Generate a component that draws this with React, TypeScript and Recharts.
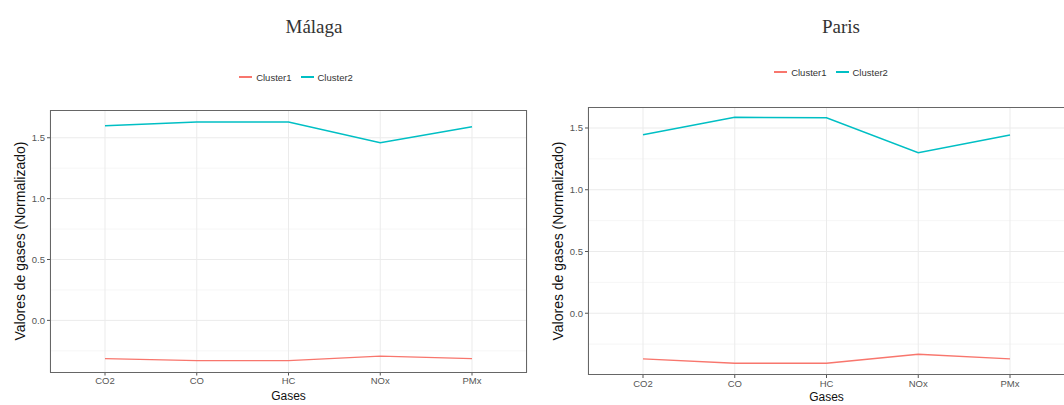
import { CartesianGrid, Line, LineChart, XAxis, YAxis } from "recharts";

const gases = ["CO2", "CO", "HC", "NOx", "PMx"];
const seriesNames = ["Cluster1", "Cluster2"];
const yTicks = [0, 0.5, 1, 1.5];
const yMinorTicks = [-0.25, 0.25, 0.75, 1.25];

const malagaCluster1 = [-0.314, -0.33, -0.33, -0.293, -0.314];
const malagaCluster2 = [1.598, 1.63, 1.63, 1.46, 1.59];
const parisCluster1 = [-0.37, -0.405, -0.405, -0.332, -0.37];
const parisCluster2 = [1.446, 1.587, 1.582, 1.3, 1.444];

const RED = "#F8766D";
const TEAL = "#00BFC4";
const SANS = "'Liberation Sans', Arial, sans-serif";

const W = 532;
const H = 405;
const PLOT_LEFT = 50;
const PLOT_RIGHT = 527;

type PanelProps = {
  left: number;
  title: string;
  titleX: number;
  legendX: number;
  legendY: number;
  plotTop: number;
  plotBottom: number;
  xTitleY: number;
  domain: [number, number];
  cluster1: number[];
  cluster2: number[];
};

function Panel(p: PanelProps) {
  const data = gases.map((gas, i) => ({
    gas,
    Cluster1: p.cluster1[i],
    Cluster2: p.cluster2[i],
  }));
  const xAxisHeight = 20;
  const yAxisWidth = 30;
  const plotH = p.plotBottom - p.plotTop;
  const plotCenterY = p.plotTop + plotH / 2;

  return (
    <div style={{ position: "absolute", left: p.left, top: 0, width: W, height: H }}>
      <div
        style={{
          position: "absolute",
          left: p.titleX - 60,
          width: 120,
          top: 15,
          textAlign: "center",
          fontFamily: "'Liberation Serif', 'Times New Roman', serif",
          fontSize: 19,
          color: "#333",
          lineHeight: "24px",
        }}
      >
        {p.title}
      </div>

      <div
        style={{
          position: "absolute",
          left: p.legendX - 80,
          width: 160,
          top: p.legendY - 7,
          height: 14,
          display: "flex",
          justifyContent: "center",
          alignItems: "center",
          fontFamily: SANS,
          fontSize: 9.5,
          color: "#333",
        }}
      >
        {seriesNames.map((name, i) => (
          <span key={name} style={{ display: "flex", alignItems: "center", marginRight: i === 0 ? 9 : 0 }}>
            <span
              style={{
                display: "inline-block",
                width: 13,
                height: 1.5,
                background: i === 0 ? RED : TEAL,
                marginRight: 4,
              }}
            />
            {name}
          </span>
        ))}
      </div>

      <LineChart
        width={W}
        height={H}
        data={data}
        margin={{
          top: p.plotTop,
          right: W - PLOT_RIGHT,
          bottom: H - p.plotBottom - xAxisHeight,
          left: PLOT_LEFT - yAxisWidth,
        }}
        style={{ position: "absolute", left: 0, top: 0 }}
      >
        <CartesianGrid
          horizontalValues={yMinorTicks}
          vertical={false}
          stroke="#F4F4F4"
          strokeWidth={0.8}
        />
        <CartesianGrid horizontalValues={yTicks} stroke="#EBEBEB" strokeWidth={1} />
        <XAxis
          dataKey="gas"
          height={xAxisHeight}
          padding={{ left: 55, right: 55 }}
          axisLine={false}
          tickSize={3}
          tickLine={{ stroke: "#555" }}
          tick={{ fill: "#555", fontSize: 9.5, fontFamily: SANS }}
          interval={0}
        />
        <YAxis
          type="number"
          width={yAxisWidth}
          domain={p.domain}
          allowDataOverflow
          ticks={yTicks}
          tickFormatter={(v: number) => v.toFixed(1)}
          axisLine={false}
          tickSize={3}
          tickLine={{ stroke: "#555" }}
          tick={{ fill: "#555", fontSize: 9.5, fontFamily: SANS }}
        />
        <Line
          type="linear"
          dataKey="Cluster1"
          stroke={RED}
          strokeWidth={1.3}
          dot={false}
          isAnimationActive={false}
        />
        <Line
          type="linear"
          dataKey="Cluster2"
          stroke={TEAL}
          strokeWidth={1.5}
          dot={false}
          isAnimationActive={false}
        />
      </LineChart>

      <div
        style={{
          position: "absolute",
          left: PLOT_LEFT,
          top: p.plotTop,
          width: PLOT_RIGHT - PLOT_LEFT,
          height: plotH,
          border: "1px solid #666",
          boxSizing: "border-box",
          pointerEvents: "none",
        }}
      />

      <div
        style={{
          position: "absolute",
          left: 20 - 150,
          top: plotCenterY - 9,
          width: 300,
          height: 18,
          lineHeight: "18px",
          textAlign: "center",
          transform: "rotate(-90deg)",
          fontFamily: SANS,
          fontSize: 14,
          color: "#111",
        }}
      >
        Valores de gases (Normalizado)
      </div>

      <div
        style={{
          position: "absolute",
          left: (PLOT_LEFT + PLOT_RIGHT) / 2 - 50,
          width: 100,
          top: p.xTitleY - 7,
          height: 14,
          lineHeight: "14px",
          textAlign: "center",
          fontFamily: SANS,
          fontSize: 12,
          color: "#111",
        }}
      >
        Gases
      </div>
    </div>
  );
}

export default function App() {
  return (
    <div
      style={{
        position: "absolute",
        left: 0,
        top: 0,
        width: 1064,
        height: 405,
        overflow: "hidden",
        background: "#fff",
      }}
    >
      <Panel
        left={0}
        title="Málaga"
        titleX={314}
        legendX={296}
        legendY={77}
        plotTop={110}
        plotBottom={372.5}
        xTitleY={396}
        domain={[-0.428, 1.728]}
        cluster1={malagaCluster1}
        cluster2={malagaCluster2}
      />
      <Panel
        left={538}
        title="Paris"
        titleX={303}
        legendX={293}
        legendY={72}
        plotTop={107}
        plotBottom={375}
        xTitleY={397}
        domain={[-0.5, 1.67]}
        cluster1={parisCluster1}
        cluster2={parisCluster2}
      />
    </div>
  );
}
